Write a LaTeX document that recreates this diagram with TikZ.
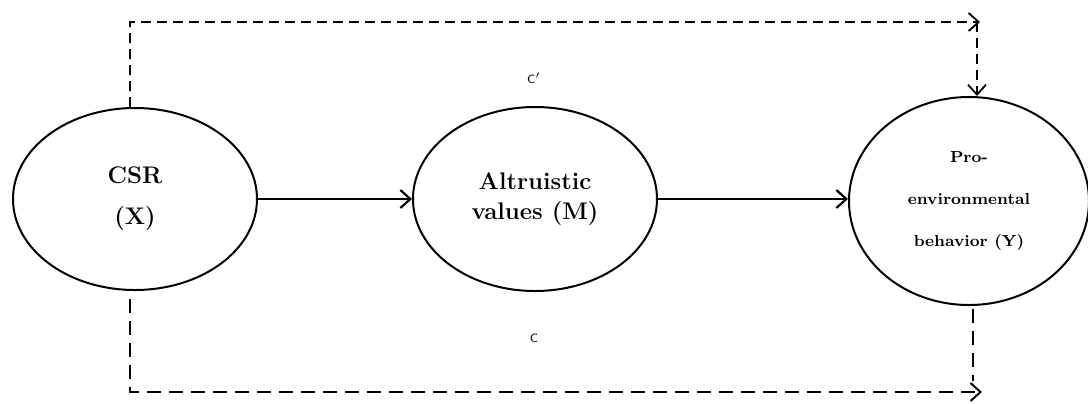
\documentclass[tikz,border=0pt]{standalone}
\usepackage{tikz}
\usetikzlibrary{arrows.meta,positioning,calc,shapes.geometric}

\begin{document}
\begin{tikzpicture}[
    x=0.5pt, y=-0.5pt,
    varbox/.style={draw, ellipse, line width=1pt, inner sep=0pt, align=center, font=\bfseries\fontsize{12}{15}\selectfont},
    arr/.style={-{Straight Barb[length=5pt, width=9pt]}, line width=1.1pt},
    dasharr/.style={-{Straight Barb[length=5pt, width=9pt]}, line width=0.9pt, dash pattern=on 5pt off 3pt},
    dasharrb/.style={dasharr, line width=1pt, dash pattern=on 7pt off 4pt},
    dashln/.style={line width=1pt, dash pattern=on 7pt off 4pt},
    lbl/.style={font=\sffamily\fontsize{6}{7}\selectfont}
]
\useasboundingbox (0,0) rectangle (1088,403);
\node[varbox, minimum width=122pt, minimum height=91pt, font=\bfseries\fontsize{12}{20.5}\selectfont] (csr) at (135,199) {CSR\\(X)};
\node[varbox, minimum width=122pt, minimum height=92pt] (alt) at (535,199) {Altruistic\\values (M)};
\node[varbox, minimum width=120pt, minimum height=104pt, font=\bfseries\fontsize{8}{21}\selectfont] (pro) at (969,201) {Pro-\\environmental\\behavior (Y)};
\node[lbl] (cprime) at (534,78) {C$'$};
\node[lbl] (ctot) at (534,338) {C};
% direct and indirect paths
\draw[arr] (csr.east) -- (alt.west);
\draw[arr] (alt.east) -- (alt.east -| pro.west);
\coordinate (topend) at (980,22);
\coordinate (topin) at (977,22);
\coordinate (botend) at (982,392);
\draw[dasharr] ($(csr.north)+(-5,0)$) |- (topend);
\draw[dasharr] (topin) -- (pro.north -| topin);
\draw[dasharrb] ($(csr.south)+(-5,8)$) |- (botend);
\draw[dashln] ($(pro.south)+(4,3)$) -- ++(0,72);
\end{tikzpicture}
\end{document}
